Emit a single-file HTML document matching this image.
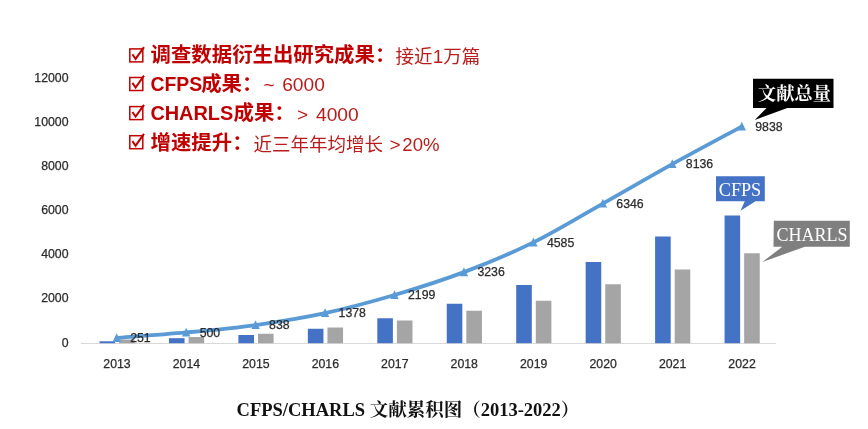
<!DOCTYPE html>
<html lang="zh-CN">
<head>
<meta charset="utf-8">
<title>CFPS/CHARLS 文献累积图（2013-2022）</title>
<style>
html,body{margin:0;padding:0;background:#fff;}
body{width:868px;height:429px;overflow:hidden;}
svg{display:block;filter:blur(0.35px);}
.ax{font-family:"Liberation Sans","Noto Sans CJK SC",sans-serif;font-size:12.3px;fill:#2b2b2b;stroke:#2b2b2b;stroke-width:0.25px;}
.dl{font-family:"Liberation Sans","Noto Sans CJK SC",sans-serif;font-size:12.3px;fill:#2b2b2b;stroke:#2b2b2b;stroke-width:0.25px;}
.bb{font-family:"Liberation Sans","Noto Sans CJK SC",sans-serif;font-weight:bold;fill:#c00000;}
.br{font-family:"Liberation Sans","Noto Sans CJK SC",sans-serif;font-weight:normal;fill:#b81c1c;}
.co{font-family:"Liberation Serif","Noto Serif CJK SC",serif;fill:#fff;}
.ti{font-family:"Liberation Serif","Noto Serif CJK SC",serif;font-weight:bold;fill:#111;}
</style>
</head>
<body>
<svg width="868" height="429" viewBox="0 0 868 429">
<rect x="0" y="0" width="868" height="429" fill="#ffffff"/>

<text class="ax" x="68.5" y="342.50" text-anchor="end" dominant-baseline="central">0</text>
<text class="ax" x="68.5" y="298.40" text-anchor="end" dominant-baseline="central">2000</text>
<text class="ax" x="68.5" y="254.30" text-anchor="end" dominant-baseline="central">4000</text>
<text class="ax" x="68.5" y="210.20" text-anchor="end" dominant-baseline="central">6000</text>
<text class="ax" x="68.5" y="166.10" text-anchor="end" dominant-baseline="central">8000</text>
<text class="ax" x="68.5" y="122.00" text-anchor="end" dominant-baseline="central">10000</text>
<text class="ax" x="68.5" y="77.90" text-anchor="end" dominant-baseline="central">12000</text>
<line x1="81" y1="343.5" x2="776" y2="343.5" stroke="#d9d9d9" stroke-width="1.2"/>
<rect x="99.50" y="341.30" width="15.6" height="1.90" fill="#4472c4"/>
<rect x="119.10" y="339.50" width="15.6" height="3.70" fill="#a5a5a5"/>
<rect x="168.95" y="338.20" width="15.6" height="5.00" fill="#4472c4"/>
<rect x="188.55" y="337.00" width="15.6" height="6.20" fill="#a5a5a5"/>
<rect x="238.40" y="335.00" width="15.6" height="8.20" fill="#4472c4"/>
<rect x="258.00" y="333.75" width="15.6" height="9.45" fill="#a5a5a5"/>
<rect x="307.85" y="328.75" width="15.6" height="14.45" fill="#4472c4"/>
<rect x="327.45" y="327.50" width="15.6" height="15.70" fill="#a5a5a5"/>
<rect x="377.30" y="318.25" width="15.6" height="24.95" fill="#4472c4"/>
<rect x="396.90" y="320.50" width="15.6" height="22.70" fill="#a5a5a5"/>
<rect x="446.75" y="303.75" width="15.6" height="39.45" fill="#4472c4"/>
<rect x="466.35" y="310.75" width="15.6" height="32.45" fill="#a5a5a5"/>
<rect x="516.20" y="285.00" width="15.6" height="58.20" fill="#4472c4"/>
<rect x="535.80" y="300.75" width="15.6" height="42.45" fill="#a5a5a5"/>
<rect x="585.65" y="262.00" width="15.6" height="81.20" fill="#4472c4"/>
<rect x="605.25" y="284.25" width="15.6" height="58.95" fill="#a5a5a5"/>
<rect x="655.10" y="236.50" width="15.6" height="106.70" fill="#4472c4"/>
<rect x="674.70" y="269.50" width="15.6" height="73.70" fill="#a5a5a5"/>
<rect x="724.55" y="215.50" width="15.6" height="127.70" fill="#4472c4"/>
<rect x="744.15" y="253.25" width="15.6" height="89.95" fill="#a5a5a5"/>
<text class="ax" x="117.00" y="363.8" text-anchor="middle" dominant-baseline="central">2013</text>
<text class="ax" x="186.45" y="363.8" text-anchor="middle" dominant-baseline="central">2014</text>
<text class="ax" x="255.90" y="363.8" text-anchor="middle" dominant-baseline="central">2015</text>
<text class="ax" x="325.35" y="363.8" text-anchor="middle" dominant-baseline="central">2016</text>
<text class="ax" x="394.80" y="363.8" text-anchor="middle" dominant-baseline="central">2017</text>
<text class="ax" x="464.25" y="363.8" text-anchor="middle" dominant-baseline="central">2018</text>
<text class="ax" x="533.70" y="363.8" text-anchor="middle" dominant-baseline="central">2019</text>
<text class="ax" x="603.15" y="363.8" text-anchor="middle" dominant-baseline="central">2020</text>
<text class="ax" x="672.60" y="363.8" text-anchor="middle" dominant-baseline="central">2021</text>
<text class="ax" x="742.05" y="363.8" text-anchor="middle" dominant-baseline="central">2022</text>
<path d="M116.70 337.97 C128.28 337.05 163.00 334.63 186.15 332.48 C209.30 330.32 232.45 328.25 255.60 325.02 C278.75 321.80 301.90 318.12 325.05 313.12 C348.20 308.11 371.35 301.84 394.50 295.01 C417.65 288.18 440.80 280.91 463.95 272.15 C487.10 263.38 510.25 253.83 533.40 242.40 C556.55 230.97 579.70 216.62 602.85 203.57 C626.00 190.52 649.15 176.93 672.30 164.10 C695.45 151.27 730.18 132.83 741.75 126.57" fill="none" stroke="#5b9bd5" stroke-width="3.8" stroke-linecap="round" stroke-linejoin="round"/>
<path d="M116.70 333.17 L120.90 341.97 L112.50 341.97 Z" fill="#5b9bd5"/>
<path d="M186.15 327.68 L190.35 336.48 L181.95 336.48 Z" fill="#5b9bd5"/>
<path d="M255.60 320.22 L259.80 329.02 L251.40 329.02 Z" fill="#5b9bd5"/>
<path d="M325.05 308.32 L329.25 317.12 L320.85 317.12 Z" fill="#5b9bd5"/>
<path d="M394.50 290.21 L398.70 299.01 L390.30 299.01 Z" fill="#5b9bd5"/>
<path d="M463.95 267.35 L468.15 276.15 L459.75 276.15 Z" fill="#5b9bd5"/>
<path d="M533.40 237.60 L537.60 246.40 L529.20 246.40 Z" fill="#5b9bd5"/>
<path d="M602.85 198.77 L607.05 207.57 L598.65 207.57 Z" fill="#5b9bd5"/>
<path d="M672.30 159.30 L676.50 168.10 L668.10 168.10 Z" fill="#5b9bd5"/>
<path d="M741.75 121.77 L745.95 130.57 L737.55 130.57 Z" fill="#5b9bd5"/>
<text class="dl" x="130.20" y="338.27" dominant-baseline="central">251</text>
<text class="dl" x="199.65" y="332.78" dominant-baseline="central">500</text>
<text class="dl" x="269.10" y="325.32" dominant-baseline="central">838</text>
<text class="dl" x="338.55" y="313.42" dominant-baseline="central">1378</text>
<text class="dl" x="408.00" y="295.31" dominant-baseline="central">2199</text>
<text class="dl" x="477.45" y="272.45" dominant-baseline="central">3236</text>
<text class="dl" x="546.90" y="242.70" dominant-baseline="central">4585</text>
<text class="dl" x="616.35" y="203.87" dominant-baseline="central">6346</text>
<text class="dl" x="685.80" y="164.40" dominant-baseline="central">8136</text>
<text class="dl" x="755.25" y="126.87" dominant-baseline="central">9838</text>
<path d="M753 78.8H833.5V108H787.3L754.8 120L766.5 108H753Z" fill="#000"/>
<text class="co" x="794.5" y="93.8" text-anchor="middle" dominant-baseline="central" font-size="18.2" font-weight="bold">文献总量</text>
<path d="M716 176.3H764.8V201.3H755.5L740.5 210.8L744.8 201.3H716Z" fill="#4472c4"/>
<text class="co" x="740" y="190" text-anchor="middle" dominant-baseline="central" font-size="18.2">CFPS</text>
<path d="M773.8 220.8H849.8V246.8H804.8L762.3 262L782.3 246.8H773.5Z" fill="#7f7f7f"/>
<text class="co" x="812" y="234.6" text-anchor="middle" dominant-baseline="central" font-size="18">CHARLS</text>
<rect x="129.8" y="48.9" width="13" height="13" fill="none" stroke="#c00000" stroke-width="1.5"/>
<path d="M132.4 54.3 L135.6 58.9 L144.0 47.1" fill="none" stroke="#c00000" stroke-width="2"/>
<text y="55.3" dominant-baseline="central" xml:space="preserve"><tspan class="bb" font-size="20.4" x="150.6" y="55.3">调查数据衍生出研究成果：</tspan><tspan class="br" font-size="18.5" x="395.6" y="55.8">接近</tspan><tspan class="br" font-size="19" x="432.8" y="55.8">1</tspan><tspan class="br" font-size="18.5" x="443.2" y="55.8">万篇</tspan></text>
<rect x="129.8" y="77.5" width="13" height="13" fill="none" stroke="#c00000" stroke-width="1.5"/>
<path d="M132.4 82.9 L135.6 87.5 L144.0 75.7" fill="none" stroke="#c00000" stroke-width="2"/>
<text y="83.6" dominant-baseline="central" xml:space="preserve"><tspan class="bb" font-size="19.4" x="150.4" y="83.6">CFPS</tspan><tspan class="bb" font-size="20.4" x="201.2" y="83.6">成果：</tspan><tspan class="br" font-size="19" x="263.6" y="84.1">~</tspan><tspan class="br" font-size="19.2" x="282.2" y="84.1">6000</tspan></text>
<rect x="129.8" y="106.6" width="13" height="13" fill="none" stroke="#c00000" stroke-width="1.5"/>
<path d="M132.4 112.0 L135.6 116.6 L144.0 104.8" fill="none" stroke="#c00000" stroke-width="2"/>
<text y="113.0" dominant-baseline="central" xml:space="preserve"><tspan class="bb" font-size="19.9" x="150.4" y="113.0">CHARLS</tspan><tspan class="bb" font-size="20.4" x="233.5" y="113.0">成果：</tspan><tspan class="br" font-size="19" x="297.0" y="113.5">&gt;</tspan><tspan class="br" font-size="19.2" x="316" y="113.5">4000</tspan></text>
<rect x="129.8" y="135.7" width="13" height="13" fill="none" stroke="#c00000" stroke-width="1.5"/>
<path d="M132.4 141.1 L135.6 145.7 L144.0 133.9" fill="none" stroke="#c00000" stroke-width="2"/>
<text y="143.2" dominant-baseline="central" xml:space="preserve"><tspan class="bb" font-size="20.4" x="150.6" y="143.2">增速提升：</tspan><tspan class="br" font-size="18.5" x="253.4" y="143.7">近三年年均增长</tspan><tspan class="br" font-size="19" x="389.5" y="143.7">&gt;</tspan><tspan class="br" font-size="18.6" x="402.3" y="143.7">20%</tspan></text>
<text class="ti" x="236.6" y="410" dominant-baseline="central" font-size="18.5" xml:space="preserve">CFPS/CHARLS 文献累积图（2013-2022）</text>
</svg>
</body>
</html>
